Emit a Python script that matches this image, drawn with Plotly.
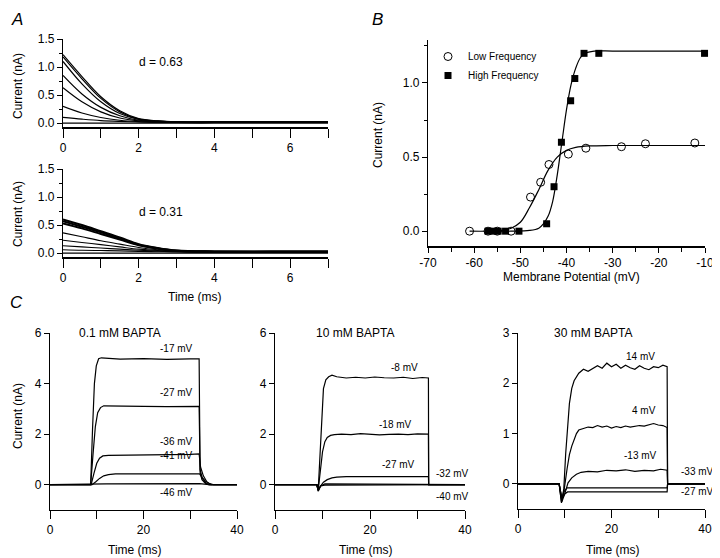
import plotly.graph_objects as go

FONT = "Liberation Sans, Arial, sans-serif"

# ---------------- Panel A data ----------------
A_T = [0, 0.5, 1, 1.5, 2, 2.5, 3, 4, 5, 6, 7]
A_TOP = [
    [1.22, 0.83, 0.47, 0.22, 0.08, 0.04, 0.025, 0.02, 0.02, 0.02, 0.02],
    [1.18, 0.79, 0.44, 0.20, 0.07, 0.035, 0.02, 0.02, 0.02, 0.02, 0.02],
    [1.10, 0.70, 0.38, 0.17, 0.065, 0.035, 0.02, 0.02, 0.02, 0.02, 0.02],
    [0.85, 0.52, 0.28, 0.13, 0.05, 0.03, 0.02, 0.02, 0.02, 0.02, 0.02],
    [0.63, 0.38, 0.20, 0.09, 0.04, 0.02, 0.015, 0.015, 0.015, 0.015, 0.015],
    [0.30, 0.18, 0.10, 0.05, 0.025, 0.015, 0.01, 0.01, 0.01, 0.01, 0.01],
    [0.10, 0.07, 0.045, 0.03, 0.02, 0.015, 0.01, 0.01, 0.01, 0.01, 0.01],
    [0.0, 0.0, 0.0, 0.0, 0.0, 0.0, 0.0, 0.0, 0.0, 0.0, 0.0],
]
A_BOT = [
    [0.60, 0.50, 0.39, 0.28, 0.16, 0.09, 0.045, 0.03, 0.03, 0.03, 0.03],
    [0.57, 0.47, 0.37, 0.26, 0.15, 0.085, 0.04, 0.03, 0.025, 0.03, 0.03],
    [0.53, 0.44, 0.34, 0.24, 0.14, 0.08, 0.04, 0.025, 0.025, 0.025, 0.025],
    [0.36, 0.29, 0.22, 0.16, 0.10, 0.06, 0.035, 0.02, 0.02, 0.02, 0.02],
    [0.23, 0.19, 0.15, 0.11, 0.07, 0.045, 0.03, 0.02, 0.02, 0.02, 0.02],
    [0.13, 0.11, 0.09, 0.07, 0.05, 0.035, 0.025, 0.02, 0.02, 0.02, 0.02],
    [0.06, 0.05, 0.045, 0.04, 0.03, 0.025, 0.02, 0.015, 0.015, 0.015, 0.015],
    [0.0, 0.0, 0.0, 0.0, 0.0, 0.0, 0.0, 0.0, 0.0, 0.0, 0.0],
]
A_LABELS = ["d = 0.63", "d = 0.31"]

# ---------------- Panel B data ----------------
LOW_V = [-61, -57, -55, -52, -47.8, -45.6, -43.8, -39.6, -35.8, -28.1, -22.9, -12.2]
LOW_I = [0.0, 0.0, 0.0, 0.0, 0.23, 0.33, 0.45, 0.52, 0.56, 0.57, 0.59, 0.595]
HIGH_V = [-57, -55.9, -54.8, -53.2, -50.3, -44.3, -42.7, -41.1, -39.1, -38.2, -36.2, -33, -10.1]
HIGH_I = [0.0, 0.0, 0.0, 0.0, 0.0, 0.05, 0.30, 0.60, 0.88, 1.03, 1.20, 1.20, 1.20]
LOW_FIT_V = [-61, -57, -54, -52, -50, -48, -46, -44, -42, -40, -38, -35, -30, -20, -10]
LOW_FIT_I = [0.0, 0.0, 0.005, 0.02, 0.06, 0.16, 0.28, 0.41, 0.50, 0.545, 0.565, 0.575, 0.578, 0.578, 0.578]
HIGH_FIT_V = [-57, -52, -48, -46, -45, -44, -43, -42, -41, -40, -39, -38, -37, -36, -34, -30, -20, -10]
HIGH_FIT_I = [0.0, 0.0, 0.005, 0.02, 0.05, 0.10, 0.20, 0.38, 0.60, 0.82, 0.99, 1.10, 1.17, 1.20, 1.215, 1.215, 1.215, 1.215]
B_XTICKS = [-70, -60, -50, -40, -30, -20, -10]
B_XTICKTEXT = ["-70", "-60", "-50", "-40", "-30", "-20", "-10"]

# ---------------- Panel C data ----------------
C1_TITLE = "0.1 mM BAPTA"
C1 = {
    "-17 mV": ([0, 8.7, 9.1, 9.5, 9.9, 10.4, 11, 15, 20, 25, 30, 31.9, 32.1, 32.5, 33.2, 34, 40],
               [0, 0, 2.2, 4.0, 4.7, 4.98, 5.02, 4.97, 4.99, 4.96, 4.98, 4.98, 0.5, 0.2, 0.06, 0, 0]),
    "-27 mV": ([0, 8.7, 9.2, 9.7, 10.2, 10.8, 11.5, 15, 20, 25, 30, 31.9, 32.1, 32.6, 33.3, 34, 40],
               [0, 0, 1.2, 2.3, 2.85, 3.05, 3.12, 3.1, 3.1, 3.09, 3.1, 3.1, 0.6, 0.25, 0.08, 0, 0]),
    "-36 mV": ([0, 8.8, 9.4, 10.0, 10.6, 11.3, 12.5, 20, 30, 31.9, 32.2, 32.8, 33.6, 34.4, 40],
               [0, 0, 0.45, 0.85, 1.05, 1.14, 1.16, 1.17, 1.2, 1.22, 0.7, 0.35, 0.1, 0, 0]),
    "-41 mV": ([0, 9.0, 9.8, 10.6, 11.5, 12.5, 14, 20, 30, 32.0, 32.4, 33.2, 34.2, 35, 40],
               [0, 0, 0.12, 0.25, 0.35, 0.4, 0.43, 0.43, 0.43, 0.43, 0.32, 0.15, 0.04, 0, 0]),
    "-46 mV": ([0, 9, 12, 32, 34, 40],
               [0, 0, 0.03, 0.04, 0, 0]),
}
C1_LABEL_POS = {"-17 mV": (27, 5.4), "-27 mV": (27, 3.64), "-36 mV": (27, 1.72),
                "-41 mV": (27, 1.16), "-46 mV": (27, -0.32)}

C2_TITLE = "10 mM BAPTA"
C2 = {
    "-8 mV": ([0, 8.8, 9.1, 9.4, 9.8, 10.2, 10.7, 11.3, 12, 13, 15, 17, 19, 21, 23, 25, 27, 29, 31, 32.3, 32.35, 40],
              [0, 0, -0.2, 1.0, 2.8, 3.8, 4.15, 4.27, 4.33, 4.27, 4.22, 4.25, 4.22, 4.26, 4.23, 4.22, 4.25, 4.2, 4.24, 4.22, 0, 0]),
    "-18 mV": ([0, 8.8, 9.1, 9.5, 10, 10.5, 11, 11.7, 12.5, 14, 16, 18, 20, 22, 24, 26, 28, 30, 32.3, 32.35, 40],
               [0, 0, -0.2, 0.5, 1.3, 1.7, 1.87, 1.95, 1.98, 2.0, 1.98, 2.02, 2.0, 1.97, 1.99, 2.0, 1.98, 2.01, 2.0, 0, 0]),
    "-27 mV": ([0, 8.8, 9.1, 9.6, 10.2, 11, 12, 13, 15, 20, 25, 30, 32.3, 32.35, 40],
               [0, 0, -0.25, -0.05, 0.1, 0.2, 0.27, 0.3, 0.32, 0.32, 0.31, 0.32, 0.32, 0, 0]),
    "-32 mV": ([0, 8.8, 9.1, 9.6, 10.5, 32.3, 32.35, 40],
               [0, 0, -0.25, -0.05, 0.03, 0.03, 0, 0]),
    "-40 mV": ([0, 8.8, 9.1, 9.6, 10.5, 32.3, 32.35, 40],
               [0, 0, -0.2, -0.05, -0.02, -0.02, 0, 0]),
}
C2_LABEL_POS = {"-8 mV": (27.2, 4.64), "-18 mV": (25.4, 2.38), "-27 mV": (26.1, 0.79),
                "-32 mV": (37.3, 0.44), "-40 mV": (37.3, -0.48)}

C3_TITLE = "30 mM BAPTA"
C3 = {
    "14 mV": ([0, 8.8, 9.3, 9.8, 10.2, 10.6, 11, 11.5, 12, 13, 14, 15, 16, 17, 18, 19, 20, 21, 22, 23, 24, 25, 26, 27, 28, 29, 30, 31, 31.9, 32.0, 40],
              [0, 0, -0.38, -0.1, 0.6, 1.2, 1.6, 1.9, 2.05, 2.2, 2.28, 2.24, 2.3, 2.35, 2.3, 2.4, 2.33, 2.38, 2.3, 2.36, 2.31, 2.28, 2.35, 2.3, 2.27, 2.33, 2.31, 2.36, 2.33, 0, 0]),
    "4 mV": ([0, 8.8, 9.4, 9.9, 10.5, 11, 11.5, 12, 12.5, 13, 14, 15, 16, 17, 18, 19, 20, 21, 22, 23, 24, 25, 26, 27, 28, 29, 30, 31, 31.9, 32.0, 40],
             [0, 0, -0.3, -0.1, 0.3, 0.58, 0.75, 0.9, 1.0, 1.07, 1.1, 1.13, 1.12, 1.16, 1.13, 1.15, 1.11, 1.14, 1.12, 1.15, 1.13, 1.14, 1.16, 1.15, 1.18, 1.2, 1.17, 1.16, 1.12, 0, 0]),
    "-13 mV": ([0, 8.8, 9.4, 10, 10.7, 11.5, 12.5, 13.5, 15, 17, 19, 21, 23, 25, 27, 29, 30.5, 31.9, 32.0, 40],
               [0, 0, -0.35, -0.2, 0.02, 0.12, 0.19, 0.23, 0.25, 0.24, 0.27, 0.26, 0.28, 0.25, 0.27, 0.26, 0.29, 0.27, 0, 0]),
    "-33 mV": ([0, 8.8, 9.3, 9.9, 10.5, 31.9, 32.0, 40],
               [0, 0, -0.36, -0.15, -0.08, -0.08, 0, 0]),
    "-27 mV": ([0, 8.8, 9.4, 10, 10.6, 31.9, 32.0, 40],
               [0, 0, -0.3, -0.2, -0.16, -0.16, 0, 0]),
}
C3_LABEL_POS = {"14 mV": (26.3, 2.54), "4 mV": (26.9, 1.46), "-13 mV": (26.1, 0.56),
                "-33 mV": (38.5, 0.24), "-27 mV": (38.5, -0.16)}

# The page puts the figure 8 px in from the top-left corner, so the figure is
# sized to fill the remaining window and page pixels are shifted accordingly.
OFF = 8
W, H = 720 - OFF, 558 - OFF


def px_x(p):
    return (p - OFF) / W


def px_y(p):
    return 1 - (p - OFF) / H


fig = go.Figure()

# Panel A traces
for row in A_TOP:
    fig.add_trace(go.Scatter(x=A_T, y=row, mode="lines", line=dict(color="black", width=1.2, shape="spline"),
                             xaxis="x", yaxis="y", showlegend=False, hoverinfo="skip"))
for i, row in enumerate(A_BOT):
    fig.add_trace(go.Scatter(x=A_T, y=row, mode="lines",
                             line=dict(color="black", width=2.0 if i < 3 else 1.1, shape="spline"),
                             xaxis="x2", yaxis="y2", showlegend=False, hoverinfo="skip"))

# Panel B
fig.add_trace(go.Scatter(x=LOW_FIT_V, y=LOW_FIT_I, mode="lines", line=dict(color="black", width=1.2, shape="spline"),
                         xaxis="x3", yaxis="y3", showlegend=False, hoverinfo="skip"))
fig.add_trace(go.Scatter(x=HIGH_FIT_V, y=HIGH_FIT_I, mode="lines", line=dict(color="black", width=1.2, shape="spline"),
                         xaxis="x3", yaxis="y3", showlegend=False, hoverinfo="skip"))
fig.add_trace(go.Scatter(x=LOW_V, y=LOW_I, mode="markers", name="Low Frequency",
                         marker=dict(symbol="circle-open", size=8, color="black", line=dict(width=1, color="black")),
                         xaxis="x3", yaxis="y3", cliponaxis=False))
fig.add_trace(go.Scatter(x=HIGH_V, y=HIGH_I, mode="markers", name="High Frequency",
                         marker=dict(symbol="square", size=7, color="black"),
                         xaxis="x3", yaxis="y3", cliponaxis=False))

# Panel C
for data, xa, ya in ((C1, "x4", "y4"), (C2, "x5", "y5"), (C3, "x6", "y6")):
    for name, (t, v) in data.items():
        fig.add_trace(go.Scatter(x=t, y=v, mode="lines", line=dict(color="black", width=1.2),
                                 xaxis=xa, yaxis=ya, showlegend=False, hoverinfo="skip"))

tickfont = dict(family=FONT, size=12, color="black")


def axis(domain, rng, anchor, **kw):
    d = dict(domain=domain, range=rng, anchor=anchor, showline=True, linecolor="black", linewidth=1.3,
             ticks="outside", tickcolor="black", tickwidth=1.2, ticklen=5, showgrid=False, zeroline=False,
             tickfont=tickfont, fixedrange=True, automargin=False)
    d.update(kw)
    return d


a_xticks = dict(tickvals=list(range(8)), ticktext=["0", "", "2", "", "4", "", "6", ""], ticklen=9, linewidth=2)
a_yticks = dict(tickvals=[0, 0.5, 1.0, 1.5], ticktext=["0.0", "0.5", "1.0", "1.5"],
                minor=dict(tickvals=[0.25, 0.75, 1.25], ticklen=3, tickcolor="black", ticks="outside"))
c_xticks = dict(tickvals=[0, 10, 20, 30, 40], ticktext=["0", "", "20", "", "40"], ticklen=8)

fig.update_layout(
    template="none",
    width=W, height=H, margin=dict(l=0, r=0, t=0, b=0, pad=0, autoexpand=False),
    paper_bgcolor="white", plot_bgcolor="white",
    font=dict(family=FONT, color="black"),
    xaxis=axis([px_x(63), px_x(328)], [0, 7], "y", **a_xticks),
    yaxis=axis([px_y(127), px_y(39)], [-0.07, 1.5], "x", **a_yticks),
    xaxis2=axis([px_x(63), px_x(328)], [0, 7], "y2", **a_xticks),
    yaxis2=axis([px_y(257), px_y(169)], [-0.07, 1.5], "x2", **a_yticks),
    xaxis3=axis([px_x(428), px_x(705)], [-70, -10], "y3", tickvals=B_XTICKS, ticktext=B_XTICKTEXT,
                linewidth=2, minor=dict(tickvals=[-65, -55, -45, -35, -25, -15], ticklen=4, tickcolor="black", ticks="outside")),
    yaxis3=axis([px_y(246), px_y(40)], [-0.1, 1.29], "x3", tickvals=[0, 0.5, 1.0], ticktext=["0.0", "0.5", "1.0"],
                minor=dict(tickvals=[0.25, 0.75, 1.25], ticklen=3, tickcolor="black", ticks="outside")),
    xaxis4=axis([px_x(50), px_x(237)], [0, 40], "y4", **c_xticks),
    yaxis4=axis([px_y(510), px_y(333)], [-1, 6], "x4", tickvals=[0, 2, 4, 6]),
    xaxis5=axis([px_x(275), px_x(465)], [0, 40], "y5", **c_xticks),
    yaxis5=axis([px_y(510), px_y(333)], [-1, 6], "x5", tickvals=[0, 2, 4, 6]),
    xaxis6=axis([px_x(518), px_x(705)], [0, 40], "y6", **c_xticks),
    yaxis6=axis([px_y(509), px_y(333)], [-0.5, 3], "x6", tickvals=[0, 1, 2, 3]),
    legend=dict(x=px_x(428), y=px_y(42), xanchor="left", yanchor="top", bgcolor="rgba(0,0,0,0)",
                font=dict(family=FONT, size=10, color="black"), itemwidth=30, tracegroupgap=0),
    showlegend=True,
)

ann = []


def paper_text(text, x, y, size=12, angle=0, italic=False, xanchor="center", yanchor="middle"):
    t = f"<i>{text}</i>" if italic else text
    ann.append(dict(text=t, x=px_x(x), y=px_y(y), xref="paper", yref="paper", showarrow=False,
                    font=dict(family=FONT, size=size, color="black"), textangle=angle,
                    xanchor=xanchor, yanchor=yanchor))


def data_text(text, x, y, xr, yr, size=10):
    ann.append(dict(text=text, x=x, y=y, xref=xr, yref=yr, showarrow=False,
                    font=dict(family=FONT, size=size, color="black"), xanchor="center", yanchor="middle"))


# panel letters
paper_text("A", 17, 8, size=17, italic=True, yanchor="top")
paper_text("B", 377, 8, size=17, italic=True, yanchor="top")
paper_text("C", 16, 291, size=17, italic=True, yanchor="top")

# axis titles
paper_text("Current (nA)", 18, 86, size=12, angle=-90)
paper_text("Current (nA)", 18, 214, size=12, angle=-90)
paper_text("Time (ms)", 195, 297, size=12)
paper_text("Current (nA)", 378, 135, size=12, angle=-90)
paper_text("Membrane Potential (mV)", 571, 277, size=12)
paper_text("Current (nA)", 18, 416, size=12, angle=-90)
paper_text("Time (ms)", 135, 550, size=12)
paper_text("Time (ms)", 366, 550, size=12)
paper_text("Time (ms)", 613, 550, size=12)

# panel A labels
data_text(A_LABELS[0], 2.6, 1.09, "x", "y", size=12)
data_text(A_LABELS[1], 2.6, 0.73, "x2", "y2", size=12)

# panel C titles and voltage labels
data_text(C1_TITLE, 15, 6.0, "x4", "y4", size=12)
data_text(C2_TITLE, 16.8, 6.0, "x5", "y5", size=12)
data_text(C3_TITLE, 16.0, 3.0, "x6", "y6", size=12)
for lbl, (x, y) in C1_LABEL_POS.items():
    data_text(lbl, x, y, "x4", "y4")
for lbl, (x, y) in C2_LABEL_POS.items():
    data_text(lbl, x, y, "x5", "y5")
for lbl, (x, y) in C3_LABEL_POS.items():
    data_text(lbl, x, y, "x6", "y6")

fig.update_layout(annotations=ann)

fig.write_html("out.html")
